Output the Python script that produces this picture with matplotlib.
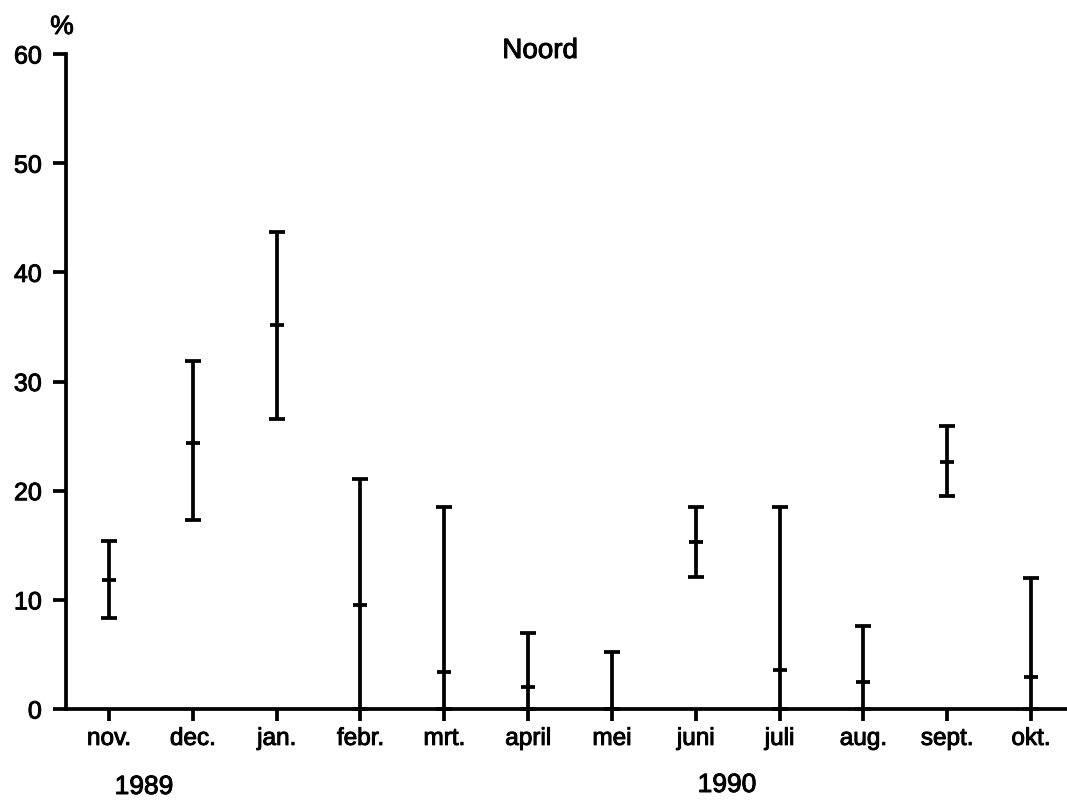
import matplotlib
matplotlib.use("Agg")
import matplotlib.pyplot as plt
import matplotlib.patheffects as pe
import numpy as np

plt.rcParams['font.family'] = ['Liberation Sans', 'DejaVu Sans']

months = ["nov.", "dec.", "jan.", "febr.", "mrt.", "april", "mei",
          "juni", "juli", "aug.", "sept.", "okt."]
center = [11.8, 24.4, 35.2, 9.5, 3.4, 2.0, 0.0, 15.3, 3.6, 2.5, 22.6, 2.9]
upper = [15.4, 31.9, 43.7, 21.1, 18.5, 7.0, 5.2, 18.5, 18.5, 7.6, 25.9, 12.0]
lower = [8.3, 17.3, 26.6, 0.0, 0.0, 0.0, 0.0, 12.1, 0.0, 0.0, 19.5, 0.0]
yticks = [0, 10, 20, 30, 40, 50, 60]

bold = [pe.withStroke(linewidth=0.7, foreground='black')]

fig = plt.figure(figsize=(10.67, 8.03), dpi=100)
ax = fig.add_axes([0.0619, 0.1158, 0.9381, 0.8157])

x = np.arange(len(months))
c = np.array(center)
yerr = np.array([c - np.array(lower), np.array(upper) - c])

ax.errorbar(x, c, yerr=yerr, fmt='none', ecolor='black', elinewidth=2.7,
            capsize=5.6, capthick=2.7, clip_on=False, zorder=3)
ax.plot(x, c, linestyle='none', marker='_', markersize=9.5, mew=2.7,
        color='black', clip_on=False, zorder=3)

ax.set_xlim(-0.513, 11.43)
ax.set_ylim(0, 60)
ax.set_yticks(yticks)
ax.set_yticklabels([str(t) for t in yticks])
ax.set_xticks(x)
ax.set_xticklabels(months)

for s in ['top', 'right']:
    ax.spines[s].set_visible(False)
for s in ['left', 'bottom']:
    ax.spines[s].set_linewidth(2.7)
    ax.spines[s].set_color('black')

ax.tick_params(axis='y', direction='out', length=9.4, width=2.7,
               pad=8, labelsize=18)
ax.tick_params(axis='x', direction='out', length=8.6, width=2.7,
               pad=5, labelsize=17.5)
for lab in ax.get_xticklabels() + ax.get_yticklabels():
    lab.set_path_effects(bold)

kw = dict(ha='center', va='center', path_effects=bold)
fig.text(62 / 1067, 1 - 28 / 803, "%", fontsize=19, **kw)
fig.text(540 / 1067, 1 - 52 / 803, "Noord", fontsize=20, **kw)
fig.text(144 / 1067, 1 - 788 / 803, "1989", fontsize=19, **kw)
fig.text(727 / 1067, 1 - 786 / 803, "1990", fontsize=19, **kw)

fig.savefig("out.png", dpi=100, facecolor='white')
